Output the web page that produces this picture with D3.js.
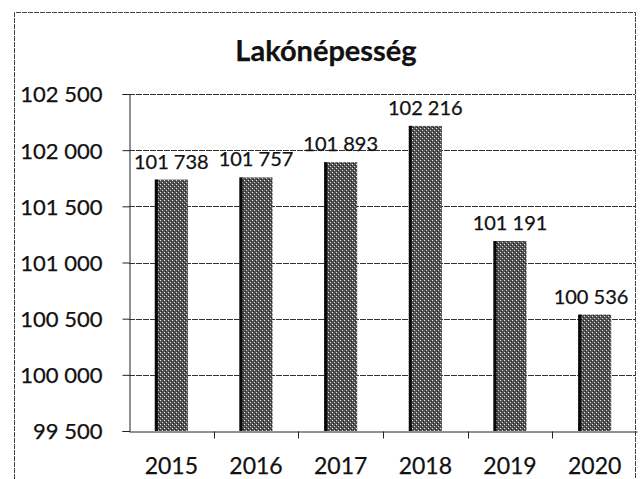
<!DOCTYPE html>
<html>
<head>
  <meta charset="utf-8">
  <title>Lakónépesség</title>
  <script src="https://d3js.org/d3.v7.min.js"></script>
  <style>
    body { margin: 0; background: #fff; }
    text { font-family: Lato, "Open Sans", sans-serif; fill: #111; stroke: #111; stroke-width: 0.25px; }
  </style>
</head>
<body>
  <svg id="chart"></svg>
  <script>
    const years = ["2015", "2016", "2017", "2018", "2019", "2020"];
    const population = [101738, 101757, 101893, 102216, 101191, 100536];
    const yTicks = [99500, 100000, 100500, 101000, 101500, 102000, 102500];
    const title = "Lakónépesség";

    const svgWidth = 640, svgHeight = 479;
    const plot = { left: 129, right: 637, top: 94, bottom: 431 };

    const svg = d3.select("#chart")
      .attr("width", svgWidth)
      .attr("height", svgHeight);

    // scanned-looking grey texture for the bars
    const defs = svg.append("defs");
    const pat = defs.append("pattern")
      .attr("id", "grain")
      .attr("width", 4).attr("height", 4)
      .attr("patternUnits", "userSpaceOnUse");
    pat.append("rect").attr("width", 4).attr("height", 4).attr("fill", "#555");
    pat.append("rect").attr("x", 0).attr("y", 0).attr("width", 1).attr("height", 1).attr("fill", "#e8e8e8");
    pat.append("rect").attr("x", 2).attr("y", 2).attr("width", 1).attr("height", 1).attr("fill", "#d0d0d0");
    pat.append("rect").attr("x", 1).attr("y", 3).attr("width", 1).attr("height", 1).attr("fill", "#222");
    pat.append("rect").attr("x", 3).attr("y", 1).attr("width", 1).attr("height", 1).attr("fill", "#222");

    // outer chart frame
    svg.append("path")
      .attr("d", "M14.5,479 V12.5 H635.5 V479")
      .attr("fill", "none")
      .attr("stroke", "#444")
      .attr("stroke-width", 1)
      .attr("stroke-dasharray", "5,1");

    const x = d3.scaleBand()
      .domain(years)
      .range([plot.left, plot.right])
      .paddingInner(0.61)
      .paddingOuter(0.305);

    const band = d3.scaleBand().domain(years).range([plot.left, plot.right]);

    const y = d3.scaleLinear()
      .domain([99500, 102500])
      .range([plot.bottom, plot.top]);

    const fmt = d3.formatLocale({ decimal: ",", thousands: " ", grouping: [3], currency: ["", ""] }).format(",d");

    // gridlines
    svg.append("g")
      .selectAll("line")
      .data(yTicks.slice(1))
      .join("line")
      .attr("x1", plot.left).attr("x2", plot.right - 2)
      .attr("y1", d => Math.round(y(d)) + 0.5)
      .attr("y2", d => Math.round(y(d)) + 0.5)
      .attr("stroke", "#333")
      .attr("stroke-dasharray", "6,1");

    // y axis
    const yAxis = d3.axisLeft(y)
      .tickValues(yTicks)
      .tickFormat(fmt)
      .tickSize(7)
      .tickPadding(20);

    const gy = svg.append("g")
      .attr("transform", "translate(" + (plot.left + 0.5) + ",0)")
      .call(yAxis);
    gy.select(".domain").attr("stroke", "#222");
    gy.selectAll(".tick line").attr("stroke", "#222");
    gy.selectAll(".tick text")
      .style("font-size", "22px")
      .attr("dy", "0.36em")
      .attr("fill", "#111");

    // x axis
    const xAxis = d3.axisBottom(band)
      .tickSize(0)
      .tickPadding(26);

    const gx = svg.append("g")
      .attr("transform", "translate(0," + (plot.bottom + 0.5) + ")")
      .call(xAxis);
    gx.select(".domain").attr("stroke", "#222");
    gx.selectAll(".tick text")
      .style("font-size", "23px")
      .attr("fill", "#111");

    // category separators on the x axis
    gx.append("g")
      .selectAll("line")
      .data(years.slice(1))
      .join("line")
      .attr("x1", d => Math.round(band(d)) + 0.5)
      .attr("x2", d => Math.round(band(d)) + 0.5)
      .attr("y1", 0).attr("y2", 7)
      .attr("stroke", "#222");

    // bars
    const bars = svg.append("g")
      .selectAll("g")
      .data(years)
      .join("g");

    bars.append("rect")
      .attr("x", d => x(d))
      .attr("y", (d, i) => y(population[i]))
      .attr("width", x.bandwidth())
      .attr("height", (d, i) => plot.bottom - y(population[i]))
      .attr("fill", "url(#grain)");

    bars.append("rect")
      .attr("x", d => x(d))
      .attr("y", (d, i) => y(population[i]))
      .attr("width", 3)
      .attr("height", (d, i) => plot.bottom - y(population[i]))
      .attr("fill", "#0a0a0a");

    // value labels
    bars.append("text")
      .attr("x", d => Math.min(x(d) + x.bandwidth() / 2, plot.right - 46))
      .attr("y", (d, i) => y(population[i]) - 11)
      .attr("text-anchor", "middle")
      .style("font-size", "20px")
      .text((d, i) => fmt(population[i]));

    // title
    svg.append("text")
      .attr("x", 326)
      .attr("y", 61)
      .attr("text-anchor", "middle")
      .style("font-size", "29px")
      .style("font-weight", "bold")
      .text(title);
  </script>
</body>
</html>
